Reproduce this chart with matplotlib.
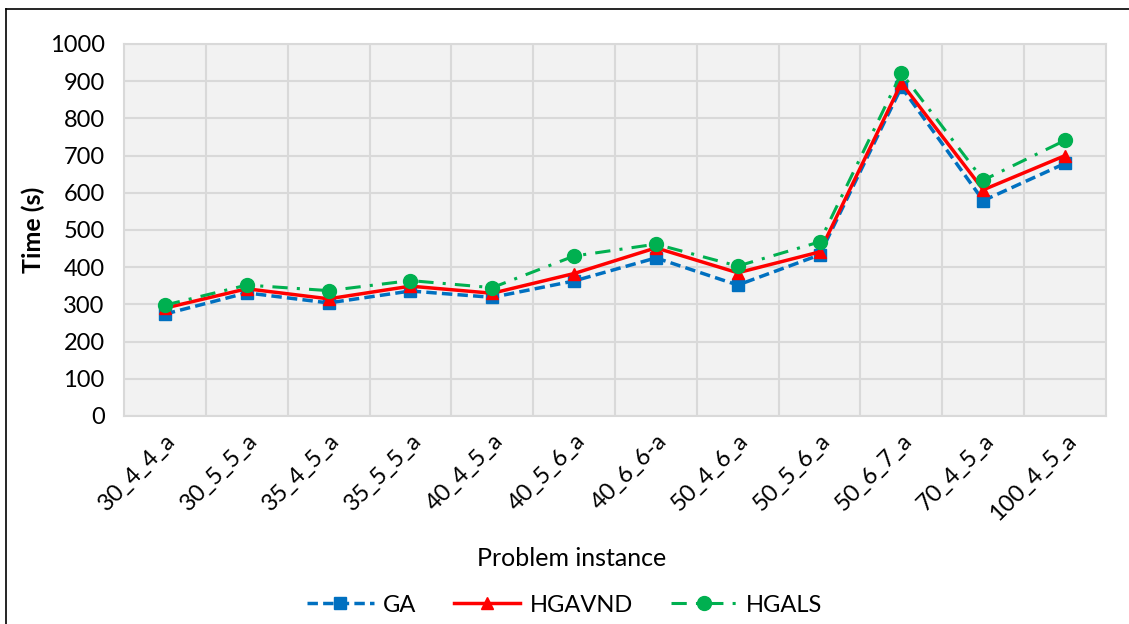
import matplotlib
matplotlib.use("Agg")
import matplotlib.pyplot as plt
import matplotlib.transforms as mtransforms
import numpy as np
from matplotlib.lines import Line2D

plt.rcParams['font.family'] = ['Lato', 'DejaVu Sans']

instances = ["30_4_4_a", "30_5_5_a", "35_4_5_a", "35_5_5_a", "40_4_5_a", "40_5_6_a",
             "40_6_6-a", "50_4_6_a", "50_5_6_a", "50_6_7_a", "70_4_5_a", "100_4_5_a"]
ga = [274, 331, 304, 336, 319, 363, 425, 352, 433, 884, 579, 679]
hgavnd = [290, 342, 315, 349, 330, 383, 452, 385, 441, 895, 608, 700]
hgals = [298, 352, 337, 364, 345, 430, 462, 403, 468, 922, 634, 741]

x = np.arange(len(instances))

fig = plt.figure(figsize=(11.29, 6.24), dpi=100)
ax = fig.add_axes([124/1129, 1 - 416/624, (1106-124)/1129, (416-44)/624])
ax.set_facecolor('#F2F2F2')

ax.plot(x, ga, color='#0070C0', lw=2.5, ls=(0, (3, 1.5)), marker='s', ms=8.5,
        label='GA', zorder=3)
ax.plot(x, hgavnd, color='#FF0000', lw=2.5, ls='-', marker='^', ms=9,
        label='HGAVND', zorder=4)
ax.plot(x, hgals, color='#00B050', lw=2.2, ls=(0, (5, 3, 1, 3)), marker='o', ms=10,
        label='HGALS', zorder=5)

ax.set_xlim(-0.5, len(instances) - 0.5)
ax.set_ylim(0, 1000)
ax.set_yticks(range(0, 1001, 100))
ax.set_xticks(x)
ax.set_xticklabels(instances, rotation=45, ha='right', rotation_mode='anchor', fontsize=17)
# shift the rotated labels a little to the right, like Excel does
shift = mtransforms.ScaledTranslation(14/100, 0, fig.dpi_scale_trans)
for lab in ax.get_xticklabels():
    lab.set_transform(lab.get_transform() + shift)
ax.set_xticks(np.arange(0.5, len(instances) - 1, 1), minor=True)
ax.tick_params(axis='y', labelsize=17, length=0, pad=14)
ax.tick_params(axis='x', which='both', length=0, pad=10)
ax.grid(True, axis='y', color='#D9D9D9', lw=1.5)
ax.grid(True, axis='x', which='minor', color='#D9D9D9', lw=1.5)
ax.grid(False, axis='x', which='major')
ax.set_axisbelow(True)
for s in ax.spines.values():
    s.set_color('#D9D9D9')
    s.set_linewidth(1.5)

fig.text(33/1129, 1 - 230/624, 'Time (s)', rotation=90, ha='center', va='center',
         fontsize=18, fontweight='bold')
fig.text(572/1129, 1 - 558/624, 'Problem instance', ha='center', va='center', fontsize=18)

fig.legend(loc='center', bbox_to_anchor=(565/1129, 1 - 605/624), ncol=3, frameon=False,
           fontsize=17, handlelength=2.8, columnspacing=1.6, handletextpad=0.4)

fig.add_artist(Line2D([6/1129, 1.0], [1 - 9/624, 1 - 9/624], color='black', lw=1.2))
fig.add_artist(Line2D([6/1129, 6/1129], [1 - 9/624, 0.0], color='black', lw=1.2))

fig.savefig('out.png', dpi=100)
